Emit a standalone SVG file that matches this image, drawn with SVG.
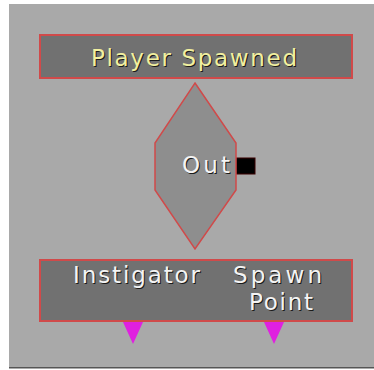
<svg xmlns="http://www.w3.org/2000/svg" width="374" height="370" viewBox="0 0 374 370">
<style>
.box{fill:#717171;stroke:#d04a4a;stroke-width:2}
.dia{fill:#8e8e8e;stroke:#d04a4a;stroke-width:1.5}
.t{font-family:"DejaVu Sans",sans-serif;font-size:23px}
.sh{fill:#1a1a1a}
.ty{fill:#f2f0a0}
.tw{fill:#f4f4f4}
.pin{fill:#e020e0}
</style>
<rect x="0" y="0" width="374" height="370" fill="#ffffff"/>
<rect x="9" y="4" width="365" height="364" fill="#a9a9a9"/>
<rect x="9" y="367" width="365" height="1.5" fill="#555555"/>
<g id="connectors">
<rect x="236" y="158" width="19" height="16" fill="#000000" stroke="#3a0000" stroke-width="1"/>
<polygon class="pin" points="123,322 143,322 133,344"/>
<polygon class="pin" points="264,322 284,322 274,344"/>
</g>
<g id="player-spawned">
<rect class="box" x="40" y="35" width="312" height="43"/>
<text class="t sh" x="195" y="67" text-anchor="middle" textLength="206" lengthAdjust="spacing">Player Spawned</text>
<text class="t ty" x="194" y="66" text-anchor="middle" textLength="206" lengthAdjust="spacing">Player Spawned</text>
</g>
<g id="out-node">
<polygon class="dia" points="195,83 236,143 236,190 195,249 155,190 155,143"/>
<text class="t sh" x="207" y="174" text-anchor="middle" textLength="48" lengthAdjust="spacing">Out</text>
<text class="t tw" x="206" y="173" text-anchor="middle" textLength="48" lengthAdjust="spacing">Out</text>
</g>
<g id="vars">
<rect class="box" x="40" y="260" width="312" height="61"/>
<text class="t sh" x="137.5" y="284" text-anchor="middle" textLength="127" lengthAdjust="spacing">Instigator</text>
<text class="t tw" x="136.5" y="283" text-anchor="middle" textLength="127" lengthAdjust="spacing">Instigator</text>
<text class="t sh" x="278.5" y="284" text-anchor="middle" textLength="89" lengthAdjust="spacing">Spawn</text>
<text class="t tw" x="277.5" y="283" text-anchor="middle" textLength="89" lengthAdjust="spacing">Spawn</text>
<text class="t sh" x="282" y="311" text-anchor="middle" textLength="64" lengthAdjust="spacing">Point</text>
<text class="t tw" x="281" y="310" text-anchor="middle" textLength="64" lengthAdjust="spacing">Point</text>
</g>
</svg>
